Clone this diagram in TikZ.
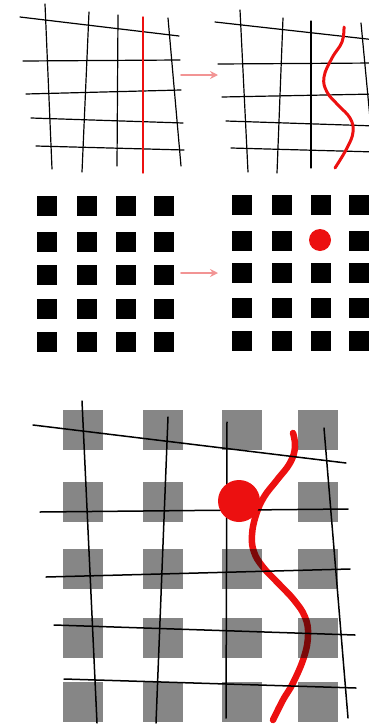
\documentclass[tikz,border=0pt]{standalone}
\usetikzlibrary{arrows.meta}
\definecolor{gridRed}{HTML}{EC1010}
\definecolor{arrowPink}{HTML}{F29494}
\definecolor{padGray}{HTML}{868686}

\begin{document}
\begin{tikzpicture}[x=1pt, y=-1pt, line cap=round,
    wire/.style={black, line width=1.2pt},
    thickwire/.style={black, line width=1.5pt},
    pad/.style={rectangle, fill=black, inner sep=0pt, minimum size=20pt},
    bigpad/.style={rectangle, fill=padGray, inner sep=0pt, minimum size=40pt},
    shift arrow/.style={-{Stealth[length=8pt, width=8pt]}, color=arrowPink, line width=1.8pt}]
  \useasboundingbox (0,0) rectangle (369,728);

  % top left: distorted grid, one straight red line
  \foreach \xa/\ya/\xb/\yb in {20/17/179/36, 23/61/180/60, 26/94/181/90,
      31/118/183/123, 36/146/184/150, 45/4/52/169, 89/12/82/172,
      118/15/117/166, 168/18/181/166}
    \draw[wire] (\xa,\ya) -- (\xb,\yb);
  \draw[gridRed, line width=1.4pt] (143,17) -- (143,173);

  % top right: same grid, red line now wavy
  \begin{scope}
    \clip (195,0) rectangle (369,180);
    \foreach \xa/\ya/\xb/\yb in {215/22/376/40, 218/64/376/63, 222/97/376/94,
        226/121/376/126, 231/148/376/152, 240/10/248/172, 283/18/277/173,
        311/21/311/168, 361/23/375/171}
      \draw[wire] (\xa,\ya) -- (\xb,\yb);
  \end{scope}
  \draw[gridRed, line width=3pt] plot[smooth, tension=0.7] coordinates {
    (344,27) (342,42) (332,58) (324,77) (327,92) (338,105) (350,118)
    (353,132) (347,148) (335,168)};

  \coordinate (arrA1) at (181,75);
  \coordinate (arrA2) at (218,75);
  \draw[shift arrow] (arrA1) -- (arrA2);

  % middle: pad arrays
  \foreach \c/\x in {1/47,2/87,3/126,4/164}
    \foreach \r/\y in {1/206,2/242,3/275,4/309,5/342}
      \node[pad] (l\c\r) at (\x,\y) {};
  \foreach \c/\x in {1/242,2/282,3/321,4/359}
    \foreach \r/\y in {1/205,2/241,3/273,4/308,5/341} {
      \ifnum\c\r=32\else
        \node[pad] (r\c\r) at (\x,\y) {};
      \fi
    }
  \fill[gridRed] (320,240) circle (11);

  \coordinate (arrB1) at (181,273);
  \coordinate (arrB2) at (218,273);
  \draw[shift arrow] (arrB1) -- (arrB2);

  % bottom: overlay of grid on pads
  \foreach \c/\x in {1/83,2/163,3/241.5,4/318}
    \foreach \r/\y in {1/429.5,2/502,3/568.5,4/637.5,5/702} {
      \ifnum\c\r=32\else
        \node[bigpad] (b\c\r) at (\x,\y) {};
      \fi
    }
  \foreach \xa/\ya/\xb/\yb in {33/425/346/463, 40/512/348/509, 46/577/350/569,
      54/625/355/635, 64/679/356/688, 82/401/97/723, 168/417/156/723,
      227/422/226/718, 324/428/348/718}
    \draw[thickwire] (\xa,\ya) -- (\xb,\yb);
  \begin{scope}[blend mode=multiply]
    \draw[gridRed, line width=6.5pt] plot[smooth, tension=0.7] coordinates {
      (293,433) (295,447) (290,463) (277,480) (264,497) (256,515) (252,535)
      (254,552) (263,567) (278,583) (294,600) (305,617) (308,635) (304,657)
      (293,683) (283,700) (273,720)};
  \end{scope}
  \fill[gridRed] (239,501) circle (21);
\end{tikzpicture}
\end{document}
